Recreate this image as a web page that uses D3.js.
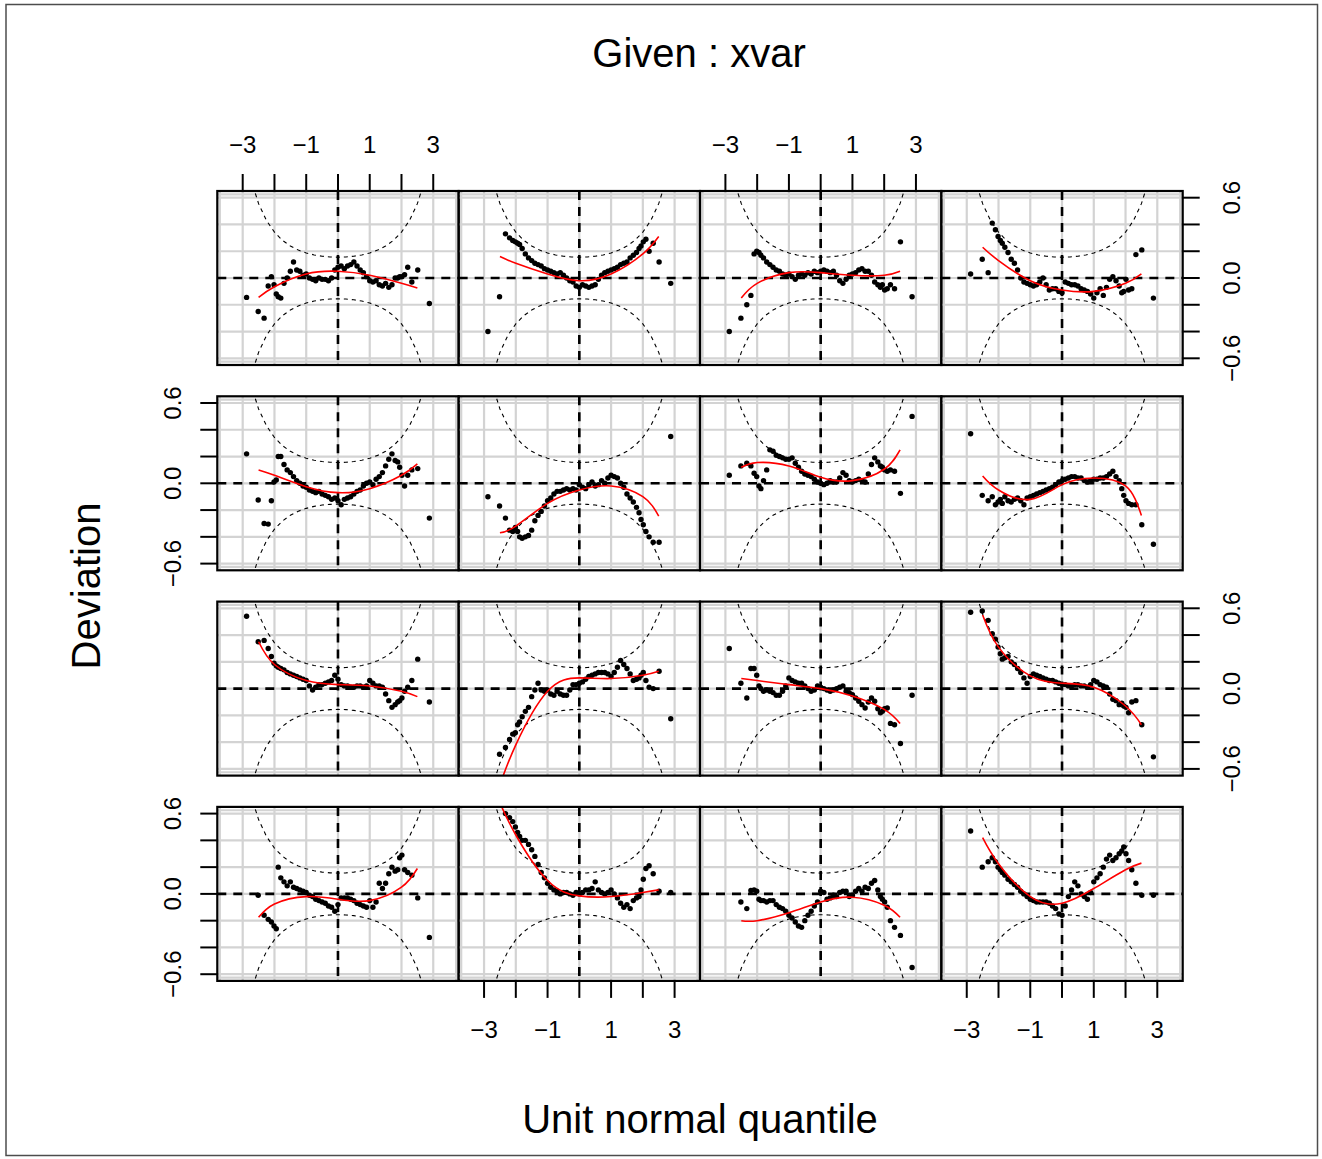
<!DOCTYPE html>
<html><head><meta charset="utf-8">
<script src="https://cdn.jsdelivr.net/npm/d3@7"></script>
<style>
body{margin:0;background:#fff}
svg{display:block}
text{font-family:"Liberation Sans",Arial,Helvetica,sans-serif;fill:#000}
</style>
</head><body>
<svg id="chart" width="1322" height="1159"></svg>
<script>
// ---------------- data ----------------
// theoretical unit-normal quantiles at which deviations were read (n = 250 per panel)
const qx = [-2.878,-2.512,-2.326,-2.197,-2.097,-2.014,-1.943,-1.881,
  -1.8,-1.7,-1.6,-1.5,-1.4,-1.3,-1.2,-1.1,-1.0,-0.9,-0.8,-0.7,-0.6,-0.5,-0.4,-0.3,-0.2,-0.1,
  0,0.1,0.2,0.3,0.4,0.5,0.6,0.7,0.8,0.9,1.0,1.1,1.2,1.3,1.4,1.5,1.6,1.7,1.8,
  1.881,1.943,2.014,2.097,2.197,2.326,2.512,2.878];
const nObs = 250;
const xTicks = [-3,-2,-1,0,1,2,3];
const xTickLabels = ["\u22123","","\u22121","","1","","3"];
const yTicks = [-0.6,-0.4,-0.2,0,0.2,0.4,0.6];
const yTickLabels = ["\u22120.6","","","0.0","","","0.6"];
const fitX = [-2.5,-2,-1,0,1,2,2.5];
const titleText = "Given : xvar";
const xLabel = "Unit normal quantile";
const yLabel = "Deviation";

// deviations per panel (rows top to bottom, columns left to right)
const devR1C1 = [-0.145,-0.25,-0.30,-0.06,0.01,-0.05,-0.12,-0.14,
  -0.15,-0.04,0.0,0.05,0.12,0.06,0.05,0.02,0.03,0.0,-0.01,-0.02,0.0,-0.01,-0.01,-0.02,0.0,0.06,
  0.08,0.09,0.07,0.09,0.10,0.12,0.09,0.06,0.04,0.01,-0.02,-0.03,-0.02,-0.05,-0.06,-0.04,-0.07,-0.05,0.0,
  0.0,0.01,0.01,0.025,0.08,-0.03,0.06,-0.19];
const devR1C2 = [-0.40,-0.14,0.33,0.30,0.28,0.27,0.26,0.25,
  0.22,0.18,0.15,0.13,0.11,0.10,0.09,0.07,0.06,0.05,0.04,0.03,0.04,0.02,0.0,-0.02,-0.03,-0.06,
  -0.07,-0.05,-0.06,-0.07,-0.06,-0.05,-0.01,0.02,0.04,0.05,0.06,0.07,0.08,0.10,0.11,0.12,0.15,0.17,0.19,
  0.22,0.24,0.27,0.29,0.20,0.26,0.12,-0.04];
const devR1C3 = [-0.40,-0.30,-0.20,-0.13,0.18,0.20,0.19,0.17,
  0.15,0.12,0.10,0.08,0.06,0.05,0.03,0.02,0.03,0.01,-0.01,0.02,0.03,0.02,0.04,0.03,0.05,0.04,
  0.05,0.06,0.05,0.04,0.05,0.02,-0.02,-0.04,-0.01,0.02,0.03,0.04,0.06,0.07,0.05,0.05,0.02,-0.03,-0.05,
  -0.07,-0.05,-0.09,-0.08,-0.05,-0.08,0.27,-0.14];
const devR1C4 = [0.03,0.14,0.04,0.41,0.36,0.31,0.28,0.26,
  0.23,0.19,0.14,0.11,0.06,0.0,-0.03,-0.04,-0.05,-0.06,-0.05,-0.03,0.0,-0.05,-0.09,-0.08,-0.08,-0.10,
  -0.11,-0.03,-0.04,-0.05,-0.05,-0.06,-0.08,-0.09,-0.10,-0.12,-0.15,-0.11,-0.08,-0.13,-0.07,-0.01,0.01,-0.02,-0.06,
  -0.11,-0.10,-0.01,-0.09,-0.08,0.175,0.21,-0.15];
const devR2C1 = [0.22,-0.125,-0.30,-0.305,-0.13,0.01,0.025,0.20,
  0.20,0.14,0.10,0.08,0.05,0.02,0.0,-0.02,-0.03,-0.05,-0.06,-0.07,-0.06,-0.08,-0.09,-0.10,-0.12,-0.11,
  -0.13,-0.16,-0.12,-0.11,-0.10,-0.08,-0.06,-0.05,-0.02,0.0,0.01,-0.01,0.03,0.05,0.08,0.13,0.18,0.22,0.17,
  0.16,0.12,0.06,-0.02,0.06,0.10,0.11,-0.26];
const devR2C2 = [-0.10,-0.17,-0.26,-0.35,-0.36,-0.33,-0.36,-0.40,
  -0.41,-0.40,-0.39,-0.35,-0.28,-0.24,-0.21,-0.17,-0.13,-0.11,-0.08,-0.06,-0.06,-0.05,-0.04,-0.05,-0.04,-0.05,
  -0.01,-0.03,-0.04,-0.01,0.01,-0.02,-0.01,0.02,0.0,0.04,0.06,0.05,0.04,0.0,-0.03,-0.08,-0.11,-0.14,-0.18,
  -0.22,-0.27,-0.31,-0.36,-0.40,-0.44,-0.44,0.35];
const devR2C3 = [0.06,0.13,0.15,0.13,0.075,0.05,-0.02,-0.04,
  0.02,0.10,0.25,0.24,0.21,0.20,0.19,0.18,0.18,0.19,0.15,0.12,0.09,0.07,0.06,0.05,0.03,0.01,
  0.0,-0.01,0.0,0.02,0.01,0.01,0.04,0.08,0.06,0.02,0.01,0.02,0.03,0.02,0.01,0.07,0.14,0.19,0.16,
  0.13,0.12,0.10,0.09,0.10,0.09,-0.075,0.50];
const devR2C4 = [0.37,-0.09,-0.13,-0.10,-0.16,-0.14,-0.12,-0.15,
  -0.10,-0.13,-0.14,-0.12,-0.11,-0.13,-0.16,-0.11,-0.10,-0.09,-0.08,-0.07,-0.06,-0.05,-0.04,-0.03,-0.01,0.01,
  0.02,0.03,0.04,0.05,0.05,0.04,0.04,0.02,0.01,0.02,0.03,0.03,0.04,0.04,0.05,0.07,0.09,0.05,0.02,
  -0.04,-0.09,-0.13,-0.15,-0.16,-0.16,-0.31,-0.455];
const devR3C1 = [0.54,0.35,0.36,0.30,0.24,0.19,0.17,0.16,
  0.15,0.14,0.12,0.11,0.10,0.09,0.08,0.07,0.06,0.02,-0.01,0.01,0.03,0.03,0.04,0.05,0.06,0.10,
  0.07,0.03,0.02,0.02,0.01,0.01,0.02,0.02,0.01,0.02,0.06,0.04,0.02,0.02,0.01,-0.04,-0.09,-0.14,-0.12,
  -0.10,-0.09,-0.07,-0.02,0.01,0.06,0.22,-0.10];
const devR3C2 = [-0.80,-0.49,-0.44,-0.38,-0.34,-0.33,-0.27,-0.25,
  -0.21,-0.17,-0.14,-0.06,-0.01,0.04,-0.01,-0.02,-0.01,-0.04,-0.05,-0.02,-0.04,-0.05,-0.05,-0.01,0.03,0.03,
  0.04,0.05,0.07,0.09,0.10,0.11,0.12,0.12,0.12,0.11,0.09,0.12,0.16,0.21,0.18,0.15,0.11,0.06,0.07,
  0.08,0.10,0.12,0.06,0.01,0.0,0.13,-0.225];
const devR3C3 = [0.30,0.04,-0.07,0.15,0.15,0.10,0.02,0.0,
  -0.02,-0.01,-0.02,-0.03,-0.05,-0.05,-0.02,0.02,0.08,0.06,0.05,0.04,0.04,0.02,0.0,-0.02,-0.01,0.02,
  0.01,0.0,-0.01,-0.02,-0.01,0.0,0.01,0.02,-0.02,-0.03,-0.045,-0.07,-0.095,-0.12,-0.145,-0.10,-0.07,-0.095,-0.15,
  -0.18,-0.17,-0.15,-0.145,-0.26,-0.27,-0.41,-0.05];
const devR3C4 = [0.57,0.58,0.51,0.41,0.37,0.31,0.26,0.22,
  0.23,0.24,0.20,0.18,0.15,0.12,0.08,0.04,0.09,0.11,0.10,0.09,0.08,0.07,0.06,0.06,0.05,0.04,
  0.03,0.03,0.02,0.02,0.03,0.03,0.02,0.02,0.01,0.03,0.06,0.05,0.03,0.02,0.01,-0.04,-0.08,-0.09,-0.12,
  -0.11,-0.13,-0.14,-0.18,-0.10,-0.09,-0.27,-0.51];
const devR4C1 = [-0.80,-0.01,-0.16,-0.19,-0.21,-0.24,-0.26,0.20,
  0.12,0.09,0.06,0.09,0.05,0.04,0.03,0.02,0.01,-0.01,-0.02,-0.04,-0.05,-0.06,-0.07,-0.09,-0.10,-0.13,
  -0.08,-0.03,-0.03,-0.03,-0.04,-0.05,-0.07,-0.08,-0.09,-0.10,-0.05,-0.10,-0.06,0.08,0.04,0.08,0.15,0.20,0.17,
  0.18,0.27,0.29,0.18,0.16,0.14,-0.03,-0.325];
const devR4C2 = [0.85,0.70,0.60,0.57,0.54,0.50,0.46,0.43,
  0.40,0.40,0.37,0.33,0.28,0.22,0.16,0.12,0.08,0.05,0.03,0.02,0.0,0.01,0.01,0.0,-0.01,0.01,
  0.0,0.01,0.03,0.03,0.04,0.09,0.03,0.01,0.0,0.01,0.03,0.0,-0.03,-0.07,-0.10,-0.08,-0.11,-0.05,-0.03,
  -0.02,0.03,0.11,0.19,0.21,0.15,0.02,0.01];
const devR4C3 = [-0.80,-0.06,-0.11,0.025,0.03,0.02,-0.04,-0.05,
  -0.05,-0.06,-0.05,-0.05,-0.08,-0.10,-0.11,-0.13,-0.16,-0.18,-0.21,-0.24,-0.25,-0.20,-0.16,-0.13,-0.09,-0.06,
  0.02,0.01,-0.04,-0.03,-0.01,-0.02,0.01,0.02,0.02,-0.02,-0.01,0.02,0.04,0.02,0.05,0.04,0.08,0.10,0.03,
  -0.02,-0.04,-0.06,-0.10,-0.20,-0.25,-0.31,-0.55];
const devR4C4 = [0.47,0.20,0.24,0.27,0.24,0.20,0.18,0.16,
  0.14,0.11,0.09,0.07,0.05,0.02,0.0,-0.02,-0.04,-0.05,-0.06,-0.06,-0.06,-0.06,-0.07,-0.09,-0.11,-0.15,
  -0.16,-0.09,-0.02,0.03,0.09,0.06,0.0,-0.02,-0.04,0.01,0.09,0.12,0.15,0.20,0.26,0.29,0.25,0.27,0.30,
  0.32,0.35,0.30,0.25,0.18,0.08,-0.01,-0.01];

// cubic-fit (red line) values read at fitX
const fitR1C1 = [-0.145,-0.065,0.03,0.05,0.02,-0.04,-0.075];
const fitR1C2 = [0.16,0.11,0.03,-0.02,0.03,0.18,0.31];
const fitR1C3 = [-0.15,-0.04,0.04,0.04,0.02,0.02,0.05];
const fitR1C4 = [0.23,0.13,-0.02,-0.09,-0.10,-0.04,0.03];
const fitR2C1 = [0.10,0.06,-0.025,-0.07,-0.04,0.06,0.145];
const fitR2C2 = [-0.37,-0.32,-0.15,-0.05,-0.02,-0.10,-0.245];
const fitR2C3 = [0.12,0.155,0.13,0.045,0.02,0.105,0.25];
const fitR2C4 = [0.055,-0.05,-0.12,-0.01,0.04,-0.02,-0.24];
const fitR3C1 = [0.35,0.18,0.06,0.03,0.02,-0.02,-0.06];
const fitR3C2 = [-0.72,-0.42,-0.02,0.08,0.075,0.10,0.13];
const fitR3C3 = [0.075,0.06,0.03,0.0,-0.055,-0.155,-0.26];
const fitR3C4 = [0.55,0.31,0.095,0.04,0.01,-0.13,-0.27];
const fitR4C1 = [-0.175,-0.075,-0.02,-0.04,-0.05,0.05,0.19];
const fitR4C2 = [0.68,0.44,0.10,-0.015,-0.02,0.01,0.03];
const fitR4C3 = [-0.20,-0.20,-0.14,-0.06,-0.025,-0.085,-0.175];
const fitR4C4 = [0.42,0.225,-0.02,-0.07,0.04,0.18,0.23];

const panelDev = [
  [devR1C1, devR1C2, devR1C3, devR1C4],
  [devR2C1, devR2C2, devR2C3, devR2C4],
  [devR3C1, devR3C2, devR3C3, devR3C4],
  [devR4C1, devR4C2, devR4C3, devR4C4]];
const panelFit = [
  [fitR1C1, fitR1C2, fitR1C3, fitR1C4],
  [fitR2C1, fitR2C2, fitR2C3, fitR2C4],
  [fitR3C1, fitR3C2, fitR3C3, fitR3C4],
  [fitR4C1, fitR4C2, fitR4C3, fitR4C4]];

// ---------------- layout ----------------
const svg = d3.select("#chart");
const L0 = 217.3, T0 = 191, PW = 241.35, PH = 174, RS = 205.3;
const XLIM = 3.8, YLIM = 0.65;
const FONT_TICK = 24, FONT_LAB = 40;

svg.append("rect").attr("x",6).attr("y",4.5).attr("width",1311.5).attr("height",1151)
  .attr("fill","none").attr("stroke","#4d4d4d").attr("stroke-width",1.5);

// normal helpers for the 95% reference band
function erf(x){const s=Math.sign(x);x=Math.abs(x);const t=1/(1+0.3275911*x);
  const y=1-(((((1.061405429*t-1.453152027)*t)+1.421413741)*t-0.284496736)*t+0.254829592)*t*Math.exp(-x*x);return s*y;}
const pnorm = z => 0.5*(1+erf(z/Math.SQRT2));
const dnorm = z => Math.exp(-z*z/2)/Math.sqrt(2*Math.PI);
const bandZ = d3.range(-4, 4.0001, 0.25);
const bandHigh = bandZ.map(z => { const p=pnorm(z); return 1.959964*Math.sqrt(p*(1-p)/nObs)/dnorm(z); });

const defs = svg.append("defs");

for (let r = 0; r < 4; r++) {
  for (let c = 0; c < 4; c++) {
    const left = L0 + c*PW, top = T0 + r*RS;
    const x = d3.scaleLinear().domain([-XLIM, XLIM]).range([left, left+PW]);
    const y = d3.scaleLinear().domain([-YLIM, YLIM]).range([top+PH, top]);
    const id = `clip${r}${c}`;
    defs.append("clipPath").attr("id", id).append("rect")
      .attr("x", left).attr("y", top).attr("width", PW).attr("height", PH);
    const g = svg.append("g").attr("clip-path", `url(#${id})`);

    // grid
    const gx = xTicks.concat([-3.72, 3.72]);
    const gy = yTicks.concat([-0.625, 0.625]);
    g.selectAll(null).data(gx).enter().append("line")
      .attr("x1", d=>x(d)).attr("x2", d=>x(d)).attr("y1", top).attr("y2", top+PH)
      .attr("stroke", "#d3d3d3").attr("stroke-width", 2.2);
    g.selectAll(null).data(gy).enter().append("line")
      .attr("y1", d=>y(d)).attr("y2", d=>y(d)).attr("x1", left).attr("x2", left+PW)
      .attr("stroke", "#d3d3d3").attr("stroke-width", 2.2);

    // points
    const dev = panelDev[r][c];
    g.selectAll(null).data(qx.map((q,i)=>[q, dev[i]])).enter().append("circle")
      .attr("cx", d=>x(d[0])).attr("cy", d=>y(d[1])).attr("r", 2.7).attr("fill", "#000");

    // zero reference lines
    g.append("line").attr("x1", left).attr("x2", left+PW).attr("y1", y(0)).attr("y2", y(0))
      .attr("stroke","#000").attr("stroke-width",2.6).attr("stroke-dasharray","9,7");
    g.append("line").attr("x1", x(0)).attr("x2", x(0)).attr("y1", top).attr("y2", top+PH)
      .attr("stroke","#000").attr("stroke-width",2.6).attr("stroke-dasharray","9,7");

    // 95% band
    const bl = d3.line().x(d=>x(d[0])).y(d=>y(d[1]));
    g.append("path").attr("d", bl(bandZ.map((z,i)=>[z, bandHigh[i]])))
      .attr("fill","none").attr("stroke","#000").attr("stroke-width",1.1).attr("stroke-dasharray","4,4");
    g.append("path").attr("d", bl(bandZ.map((z,i)=>[z, -bandHigh[i]])))
      .attr("fill","none").attr("stroke","#000").attr("stroke-width",1.1).attr("stroke-dasharray","4,4");

    // fitted cubic
    const fl = d3.line().x(d=>x(d[0])).y(d=>y(d[1])).curve(d3.curveNatural);
    g.append("path").attr("d", fl(fitX.map((q,i)=>[q, panelFit[r][c][i]])))
      .attr("fill","none").attr("stroke","#ff0000").attr("stroke-width",1.6);

    // border
    svg.append("rect").attr("x", left).attr("y", top).attr("width", PW).attr("height", PH)
      .attr("fill","none").attr("stroke","#000").attr("stroke-width",2.2);

    const TL = 17;
    // top axis
    if (r === 0 && (c === 0 || c === 2)) {
      xTicks.forEach((t,i)=>{
        svg.append("line").attr("x1",x(t)).attr("x2",x(t)).attr("y1",top).attr("y2",top-TL)
          .attr("stroke","#000").attr("stroke-width",2);
        if (xTickLabels[i]) svg.append("text").attr("x",x(t)).attr("y",top-38)
          .attr("text-anchor","middle").style("font-size",FONT_TICK+"px").text(xTickLabels[i]);
      });
    }
    // bottom axis
    if (r === 3 && (c === 1 || c === 3)) {
      xTicks.forEach((t,i)=>{
        svg.append("line").attr("x1",x(t)).attr("x2",x(t)).attr("y1",top+PH).attr("y2",top+PH+TL)
          .attr("stroke","#000").attr("stroke-width",2);
        if (xTickLabels[i]) svg.append("text").attr("x",x(t)).attr("y",top+PH+57)
          .attr("text-anchor","middle").style("font-size",FONT_TICK+"px").text(xTickLabels[i]);
      });
    }
    // left axis
    if (c === 0 && (r === 1 || r === 3)) {
      yTicks.forEach((t,i)=>{
        svg.append("line").attr("x1",left).attr("x2",left-TL).attr("y1",y(t)).attr("y2",y(t))
          .attr("stroke","#000").attr("stroke-width",2);
        if (yTickLabels[i]) svg.append("text").attr("transform",`translate(${left-36.5},${y(t)}) rotate(-90)`)
          .attr("text-anchor","middle").style("font-size",FONT_TICK+"px").text(yTickLabels[i]);
      });
    }
    // right axis
    if (c === 3 && (r === 0 || r === 2)) {
      yTicks.forEach((t,i)=>{
        svg.append("line").attr("x1",left+PW).attr("x2",left+PW+TL).attr("y1",y(t)).attr("y2",y(t))
          .attr("stroke","#000").attr("stroke-width",2);
        if (yTickLabels[i]) svg.append("text").attr("transform",`translate(${left+PW+57.5},${y(t)}) rotate(-90)`)
          .attr("text-anchor","middle").style("font-size",FONT_TICK+"px").text(yTickLabels[i]);
      });
    }
  }
}

svg.append("text").attr("x",699).attr("y",66.5).attr("text-anchor","middle")
  .style("font-size",FONT_LAB+"px").text(titleText);
svg.append("text").attr("x",700).attr("y",1133).attr("text-anchor","middle")
  .style("font-size",FONT_LAB+"px").text(xLabel);
svg.append("text").attr("transform","translate(100,586) rotate(-90)").attr("text-anchor","middle")
  .style("font-size",FONT_LAB+"px").text(yLabel);
</script>
</body></html>
